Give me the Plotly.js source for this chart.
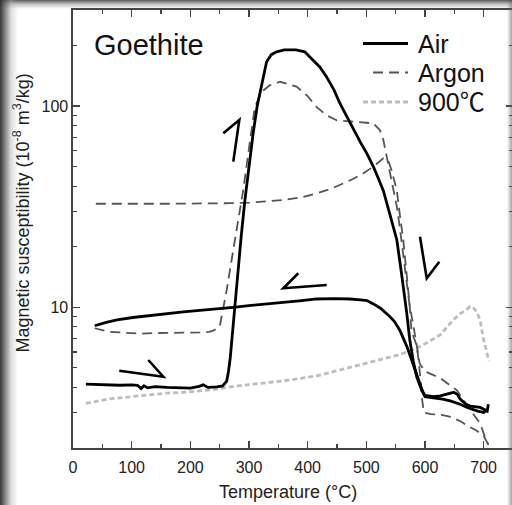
<!DOCTYPE html>
<html>
<head>
<meta charset="utf-8">
<script src="https://cdn.plot.ly/plotly-3.0.1.min.js"></script>
<style>
  html, body { margin: 0; padding: 0; background: #fff; overflow: hidden; }
  #wrap { position: relative; width: 512px; height: 505px; overflow: hidden; }
  #chart { position: absolute; left: 0; top: 0; width: 520px; height: 505px; }
  /* darkened photo edges */
  #shade {
    position: absolute; left: 0; top: 0; width: 512px; height: 505px; pointer-events: none;
    background:
      linear-gradient(to right, rgba(45,45,45,0.95) 0px, rgba(90,90,90,0.75) 5px, rgba(170,170,170,0.4) 11px, rgba(255,255,255,0) 18px),
      linear-gradient(to bottom, rgba(70,70,70,0.9) 0px, rgba(130,130,130,0.5) 4px, rgba(255,255,255,0) 9px),
      linear-gradient(to left, rgba(90,90,90,0.55) 0px, rgba(255,255,255,0) 5px);
  }
</style>
</head>
<body>
<div id="wrap">
  <div id="chart"></div>
  <div id="shade"></div>
</div>
<script>
// Heating in air (solid)
const airHeatT = [22, 50, 80, 100, 110, 116, 121, 127, 140, 160, 180, 200, 215, 222, 230, 245, 255, 262, 265, 268, 271, 274, 277, 282, 287, 293, 300, 307, 314, 322, 330, 338, 347, 360, 380, 395, 410, 421, 432, 445, 455, 467, 478, 490, 501, 512, 520, 529, 540, 546, 552, 560, 565, 569, 574, 580, 586, 594, 600, 615, 626, 637, 649, 655, 660, 670, 677, 694, 703, 706, 708];
const airHeatK = [4.15, 4.12, 4.1, 4.12, 4.1, 3.95, 4.08, 3.98, 4.04, 4.0, 3.97, 3.97, 4.05, 4.12, 4.0, 4.02, 4.07, 4.3, 4.8, 5.6, 7.0, 8.8, 11.5, 16, 23, 34, 50, 73, 100, 130, 166, 180, 186, 190, 190, 186, 169, 156, 140, 120, 103, 88, 76, 66, 58, 50, 44, 38, 29, 25, 21.6, 14.7, 11.5, 9.3, 6.9, 5.4, 4.5, 3.9, 3.65, 3.6, 3.63, 3.7, 3.78, 3.7, 3.5, 3.3, 3.23, 3.18, 3.08, 3.05, 3.3];
// Cooling in air (solid)
const airCoolT = [706, 700, 690, 672, 660, 643, 630, 615, 600, 597, 589, 580, 569, 557, 548, 540, 532, 524, 512, 501, 490, 472, 445, 415, 390, 358, 330, 300, 273, 245, 216, 188, 160, 130, 102, 75, 55, 37];
const airCoolK = [3.1, 3.0, 3.05, 3.18, 3.3, 3.43, 3.5, 3.56, 3.6, 3.74, 4.35, 5.27, 6.4, 7.7, 8.5, 9.0, 9.4, 9.9, 10.4, 10.8, 10.9, 11.0, 11.05, 11.0, 10.8, 10.6, 10.4, 10.2, 10.0, 9.8, 9.65, 9.5, 9.3, 9.1, 8.9, 8.65, 8.4, 8.1];

// Heating in argon (dashed)
const argHeatT = [37, 60, 80, 100, 114, 140, 170, 200, 216, 232, 239, 250, 262, 276, 283, 290, 302, 310, 322, 336, 353, 365, 381, 400, 415, 432, 449, 470, 484, 500, 512, 523, 529, 535, 543, 552, 557, 563, 569, 574, 579, 583, 587, 591, 600, 626, 654, 677, 694, 704, 708];
const argHeatK = [7.87, 7.57, 7.5, 7.45, 7.4, 7.45, 7.45, 7.5, 7.5, 7.55, 7.66, 8.0, 12.2, 21.6, 28, 38, 68, 99, 118, 127, 132, 129, 125, 112, 99, 90, 85, 84, 83.6, 82.6, 82, 76, 67.8, 56, 43, 31.6, 25, 18.5, 13.7, 10.1, 8.5, 7.4, 6.2, 5.25, 4.8, 4.45, 3.88, 3.09, 2.65, 2.19, 2.08];
// Cooling in argon (dashed)
const argCoolT = [708, 700, 687, 675, 662, 645, 628, 610, 598, 595, 592, 588, 584, 580, 577, 574, 569, 563, 557, 552, 543, 537, 529, 512, 495, 478, 461, 440, 415, 390, 359, 330, 300, 270, 240, 200, 160, 120, 80, 37];
const argCoolK = [2.08, 2.3, 2.45, 2.55, 2.7, 2.85, 2.92, 2.95, 3.0, 3.5, 4.5, 5.8, 6.7, 7.3, 7.6, 10.1, 14.8, 21.6, 29, 38, 48, 54, 55, 50, 46.3, 43.5, 41.3, 38.8, 36.8, 35.2, 34.1, 33.5, 33.1, 32.9, 32.8, 32.8, 32.7, 32.7, 32.7, 32.7];

// Sample pre-heated to 900 ℃ (dotted)
const hotT = [22, 40, 60, 80, 100, 131, 160, 188, 215, 245, 275, 302, 330, 359, 390, 416, 445, 472, 500, 529, 555, 575, 592, 609, 626, 637, 648, 660, 670, 677, 683, 688, 694, 699, 704, 709];
const hotK = [3.33, 3.4, 3.5, 3.55, 3.6, 3.7, 3.75, 3.78, 3.85, 3.92, 4.05, 4.15, 4.22, 4.31, 4.45, 4.57, 4.8, 5.03, 5.25, 5.53, 5.8, 6.08, 6.4, 6.82, 7.3, 7.94, 8.65, 9.3, 9.7, 10.1, 9.9, 9.5, 8.65, 7.1, 6.2, 5.4];

// Axis ticks
const xTicks = [0, 100, 200, 300, 400, 500, 600, 700];
const yTicks = [10, 100];
const yTickText = ['10', '100'];
const yMinor = [2, 3, 4, 5, 6, 7, 8, 9, 20, 30, 40, 50, 60, 70, 80, 90, 200, 300];

// Legend entries
const seriesNames = ['Air', 'Argon', '900℃'];

const FONT = "'Liberation Sans', Arial, Helvetica, sans-serif";
const airStyle = { color: '#000000', width: 2.8 };
const argStyle = { color: '#555555', width: 1.8, dash: '10px,6px' };
const hotStyle = { color: '#bdbdbd', width: 2.8, dash: '5px,3px' };

const traces = [
  { x: hotT, y: hotK, mode: 'lines', line: hotStyle, name: seriesNames[2] },
  { x: argHeatT, y: argHeatK, mode: 'lines', line: argStyle, name: seriesNames[1] },
  { x: argCoolT, y: argCoolK, mode: 'lines', line: argStyle, name: seriesNames[1] },
  { x: airHeatT, y: airHeatK, mode: 'lines', line: airStyle, name: seriesNames[0] },
  { x: airCoolT, y: airCoolK, mode: 'lines', line: airStyle, name: seriesNames[0] }
];

// paper coordinate helpers for the legend block and hand-drawn direction marks
const plotL = 73, plotW = 440, plotT = 10, plotH = 438;
const px = v => (v - plotL) / plotW;
const py = v => (plotT + plotH - v) / plotH;

function stroke(pts) {
  return {
    type: 'path', xref: 'paper', yref: 'paper',
    path: pts.map((p, i) => (i ? 'L' : 'M') + px(p[0]).toFixed(4) + ',' + py(p[1]).toFixed(4)).join(' '),
    line: { color: '#000', width: 2.6 }
  };
}

const legendRows = [43.5, 72.5, 102];
const legendStyles = [airStyle, argStyle, hotStyle];
const legendX0 = [363, 373, 363];

const shapes = [
  // heating / cooling direction marks
  stroke([[119.3, 370.7], [163.3, 376.7], [148.3, 360]]),
  stroke([[223.3, 133.3], [239.3, 120], [233.3, 161.7]]),
  stroke([[298.3, 273.3], [283.3, 288.3], [326.7, 285]]),
  stroke([[420, 236.7], [426.7, 278.3], [439.3, 261.7]])
];
legendRows.forEach((r, i) => {
  shapes.push({
    type: 'line', xref: 'paper', yref: 'paper',
    x0: px(legendX0[i]), x1: px(408), y0: py(r), y1: py(r),
    line: legendStyles[i]
  });
});

const annotations = [
  { text: 'Goethite', xref: 'paper', yref: 'paper', x: px(92), y: py(45), xanchor: 'left', yanchor: 'middle',
    showarrow: false, font: { family: FONT, size: 29, color: '#111' } },
  { text: 'Temperature (°C)', xref: 'paper', yref: 'paper', x: px(287.5), y: py(492), xanchor: 'center', yanchor: 'middle',
    showarrow: false, font: { family: FONT, size: 18, color: '#222' } },
  { text: 'Magnetic susceptibility (10<sup>-8</sup> m<sup>3</sup>/kg)', xref: 'paper', yref: 'paper',
    x: px(22), y: py(213.5), xanchor: 'center', yanchor: 'middle', textangle: -90,
    showarrow: false, font: { family: FONT, size: 18, color: '#222' } }
];
legendRows.forEach((r, i) => {
  annotations.push({
    text: seriesNames[i], xref: 'paper', yref: 'paper', x: px(416), y: py(r), xanchor: 'left', yanchor: 'middle',
    showarrow: false, font: { family: FONT + ", 'Noto Sans CJK JP'", size: 25, color: '#111' }
  });
});

const axisCommon = {
  showgrid: false, zeroline: false, showline: true, linecolor: '#444', linewidth: 1.6,
  mirror: 'ticks', ticks: 'inside', ticklen: 7, tickwidth: 1.3, tickcolor: '#444',
  tickfont: { family: FONT, size: 16, color: '#222' }
};

const layout = {
  width: 520, height: 505,
  margin: { l: plotL, r: 520 - plotL - plotW, t: plotT, b: 505 - plotT - plotH },
  paper_bgcolor: '#ffffff', plot_bgcolor: '#ffffff',
  showlegend: false,
  xaxis: Object.assign({}, axisCommon, {
    range: [0, 750], tickmode: 'array', tickvals: xTicks, ticklabelstandoff: 4,
    minor: { dtick: 50, tick0: 0, ticks: 'inside', ticklen: 4, tickwidth: 1.2, tickcolor: '#444', showgrid: false }
  }),
  yaxis: Object.assign({}, axisCommon, {
    type: 'log', range: [Math.log10(2), Math.log10(300)],
    tickmode: 'array', tickvals: yTicks, ticktext: yTickText,
    minor: { tickmode: 'array', tickvals: yMinor, ticks: 'inside', ticklen: 4, tickwidth: 1.2, tickcolor: '#444', showgrid: false }
  }),
  shapes: shapes,
  annotations: annotations
};

Plotly.newPlot('chart', traces, layout, { staticPlot: true, displayModeBar: false });
</script>
</body>
</html>
